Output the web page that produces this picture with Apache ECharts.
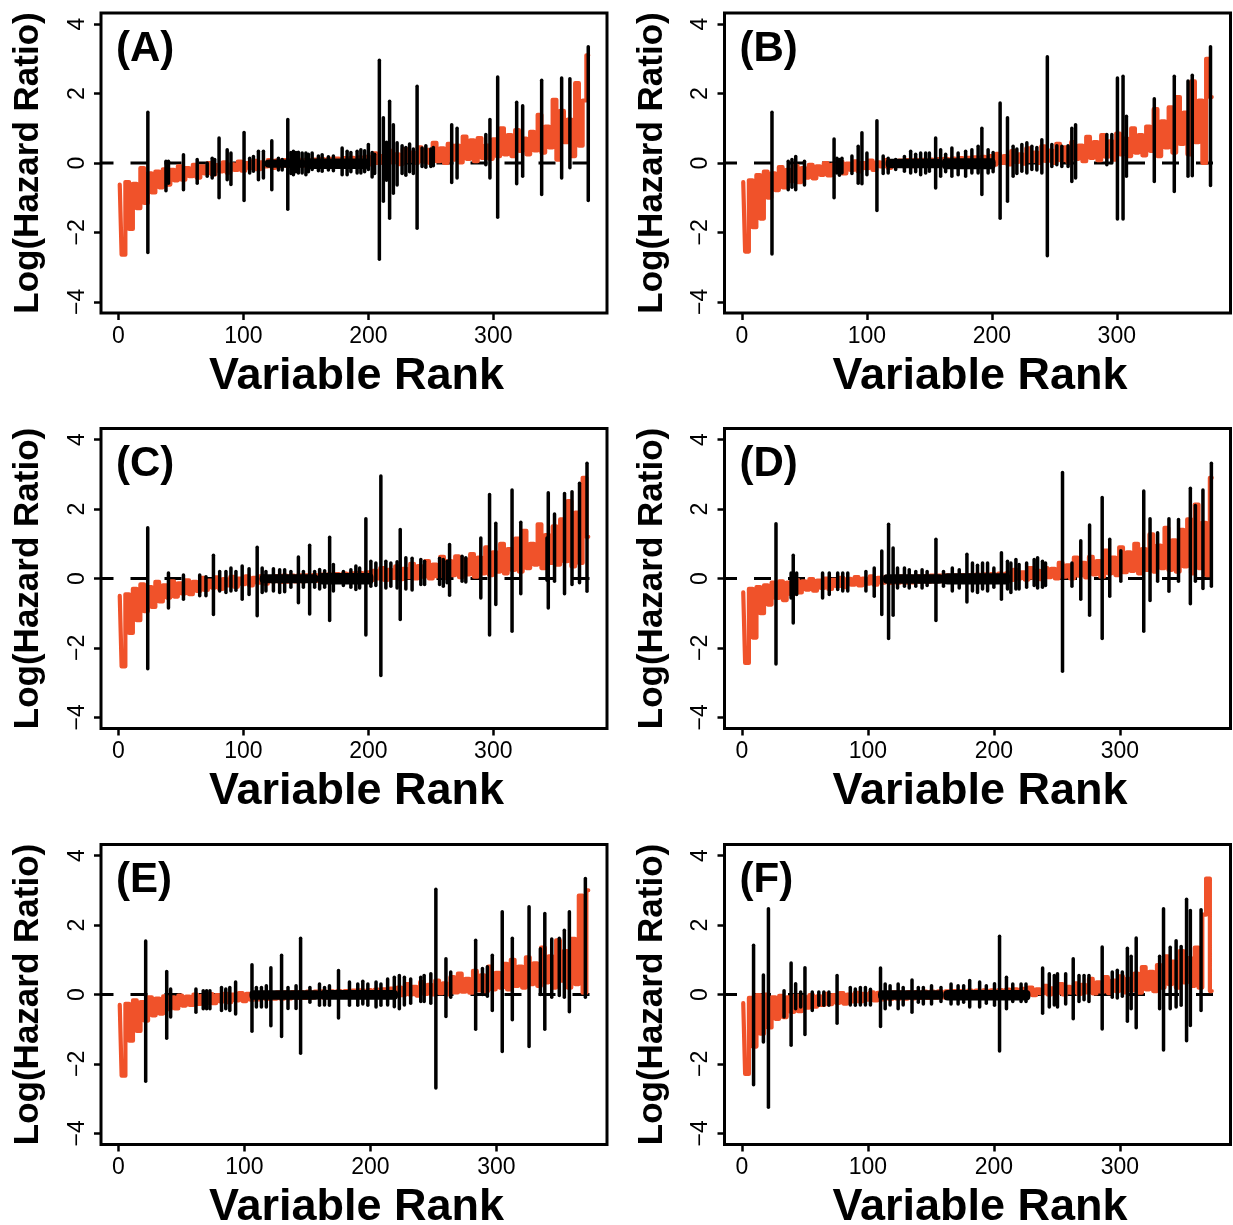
<!DOCTYPE html>
<html><head><meta charset="utf-8">
<script src="https://cdn.jsdelivr.net/npm/echarts@6/dist/echarts.min.js"></script>
<style>html,body{margin:0;padding:0;background:#fff}#c{width:1233px;height:1225px}</style>
</head><body><div id="c"></div>
<script>
// ---------- data ----------
const panelLabels = ['(A)', '(B)', '(C)', '(D)', '(E)', '(F)'];
const panelN = [376, 376, 376, 373, 373, 373];   // number of ranked variables
const rankStep = 3;                               // orange values read every 3 ranks, starting at rank 1
const xTicks = [0, 100, 200, 300];
const yTicks = [-4, -2, 0, 2, 4];

const orangeA = [-0.62,-2.64,-0.55,-1.9,-0.6,-1.3,-0.15,-1.15,-0.3,-0.85,-0.25,-0.7,-0.18,-0.62,-0.2,-0.5,-0.1,-0.48,-0.15,-0.38,-0.05,-0.42,-0.1,-0.3,0.0,-0.33,-0.06,-0.24,0.02,-0.28,-0.04,-0.2,0.04,-0.22,0.0,-0.15,0.06,-0.18,0.02,-0.1,0.08,-0.14,
0.07,-0.1,0.08,-0.09,0.08,-0.08,0.09,-0.08,0.1,-0.07,0.1,-0.06,0.11,-0.05,0.12,-0.05,0.13,-0.04,0.14,-0.04,0.15,-0.03,0.16,-0.03,0.18,
-0.04,0.28,0.0,0.2,-0.05,0.35,0.02,0.25,-0.03,0.4,0.05,0.3,0.0,0.45,0.04,0.38,0.0,0.58,0.05,0.42,0.0,0.55,0.1,0.5,0.02,0.76,0.12,0.65,0.05,0.72,0.15,0.5,0.12,0.68,0.2,1.0,0.25,0.8,0.2,0.95,0.35,0.7,0.25,0.9,0.36,1.39,0.3,1.05,0.45,1.82,0.1,1.5,0.6,1.25,0.2,2.3,0.5,1.8,3.1];
const orangeB = [-0.55,-2.55,-0.5,-1.85,-0.35,-1.6,-0.25,-1.0,-0.3,-0.78,-0.12,-0.7,-0.2,-0.52,-0.08,-0.55,-0.15,-0.42,-0.05,-0.44,-0.1,-0.34,0.0,-0.36,-0.05,-0.25,0.03,-0.3,-0.02,-0.2,0.05,-0.24,0.0,-0.15,0.07,-0.2,0.02,-0.1,0.08,-0.14,0.04,-0.08,
0.07,-0.09,0.08,-0.09,0.09,-0.08,0.09,-0.07,0.1,-0.07,0.11,-0.06,0.12,-0.05,0.13,-0.05,0.14,-0.04,0.15,-0.03,0.16,-0.03,0.18,-0.02,0.2,
-0.05,0.26,0.0,0.2,-0.04,0.34,0.03,0.25,-0.02,0.42,0.05,0.3,0.0,0.48,0.06,0.36,0.0,0.55,0.08,0.45,0.02,0.6,0.12,0.5,0.05,0.75,0.15,0.6,0.08,0.8,0.18,0.62,0.1,0.85,0.25,0.7,0.2,1.0,0.3,0.8,0.22,1.05,0.35,1.55,0.2,1.2,0.45,1.6,0.3,1.9,0.55,1.45,0.25,2.35,0.6,1.8,0.0,3.0,1.9];
const orangeC = [-0.5,-2.53,-0.46,-1.57,-0.3,-1.2,-0.17,-0.94,-0.25,-0.82,-0.1,-0.66,-0.2,-0.55,-0.08,-0.52,-0.14,-0.43,-0.05,-0.45,-0.1,-0.36,0.02,-0.33,-0.06,-0.26,0.03,-0.3,-0.02,-0.2,0.05,-0.24,0.0,-0.16,0.06,-0.2,0.02,-0.12,0.07,-0.15,0.03,-0.08,
0.07,-0.1,0.08,-0.09,0.08,-0.08,0.09,-0.08,0.09,-0.07,0.1,-0.07,0.11,-0.06,0.12,-0.05,0.13,-0.05,0.14,-0.04,0.15,-0.04,0.16,-0.03,0.18,
-0.05,0.22,0.0,0.3,-0.04,0.25,0.02,0.35,-0.02,0.28,0.04,0.42,0.0,0.36,0.05,0.5,0.0,0.4,0.06,0.62,0.02,0.5,0.1,0.64,0.04,0.55,0.12,0.7,0.05,0.6,0.15,0.9,0.1,0.75,0.2,1.0,0.15,0.85,0.25,1.15,0.2,1.37,0.3,1.0,0.4,1.56,0.3,1.25,0.45,1.5,0.4,1.7,0.5,2.23,0.35,1.9,0.45,2.9,1.2];
const orangeD = [-0.4,-2.43,-0.3,-1.7,-0.25,-1.0,-0.2,-0.75,-0.12,-0.56,-0.08,-0.62,-0.12,-0.45,-0.04,-0.4,-0.08,-0.32,-0.02,-0.35,-0.06,-0.27,0.0,-0.3,-0.04,-0.22,0.02,-0.25,-0.01,-0.18,0.04,-0.2,0.0,-0.15,0.06,-0.18,0.02,-0.12,
0.05,-0.13,0.05,-0.12,0.06,-0.12,0.06,-0.11,0.07,-0.1,0.07,-0.1,0.08,-0.09,0.08,-0.08,0.09,-0.08,0.09,-0.07,0.1,-0.07,0.1,-0.06,0.11,-0.06,0.12,-0.05,0.13,-0.05,0.14,-0.04,0.15,
-0.04,0.25,0.0,0.18,-0.03,0.3,0.02,0.22,-0.02,0.3,0.04,0.28,0.0,0.45,0.05,0.38,0.0,0.6,0.08,0.45,0.03,0.62,0.12,0.5,0.05,0.8,0.15,0.6,0.1,0.9,0.18,0.75,0.22,1.0,0.15,0.85,0.25,1.27,0.2,0.95,0.3,1.46,0.25,1.1,0.2,1.4,0.35,1.7,0.15,2.13,0.3,1.6,0.1,2.9];
const orangeE = [-0.3,-2.34,-0.27,-1.33,-0.17,-1.05,-0.22,-0.75,-0.08,-0.6,-0.12,-0.55,-0.05,-0.42,-0.08,-0.4,-0.03,-0.32,-0.06,-0.3,0.0,-0.27,-0.04,-0.24,0.01,-0.25,-0.02,-0.2,0.02,-0.22,0.0,-0.17,0.04,-0.19,0.02,
-0.15,0.04,-0.14,0.05,-0.13,0.05,-0.12,0.06,-0.12,0.06,-0.11,0.07,-0.1,0.07,-0.1,0.08,-0.09,0.08,-0.08,0.09,-0.08,0.09,-0.07,0.1,-0.07,0.1,-0.06,0.11,-0.06,0.12,-0.05,0.13,-0.05,0.14,-0.04,0.15,-0.04,0.17,-0.03,0.2,
-0.02,0.3,0.0,0.22,-0.03,0.36,0.02,0.28,0.0,0.4,0.04,0.32,0.0,0.5,0.06,0.6,0.08,0.45,0.05,0.68,0.12,0.55,0.1,0.8,0.15,0.62,0.2,0.88,0.15,1.0,0.25,0.8,0.2,1.07,0.3,0.9,0.25,1.35,0.35,1.1,0.2,1.56,0.4,1.25,0.2,1.6,0.3,2.85,0.05,3.0];
const orangeF = [-0.25,-2.29,-0.1,-1.5,-0.02,-1.13,0.0,-0.95,-0.08,-0.7,-0.04,-0.65,-0.08,-0.5,-0.03,-0.48,-0.07,-0.38,-0.02,-0.35,-0.05,-0.3,0.02,-0.28,-0.02,-0.24,0.04,-0.26,0.0,-0.2,0.05,-0.2,0.02,-0.15,0.06,-0.17,
0.05,-0.14,0.05,-0.13,0.06,-0.12,0.06,-0.12,0.07,-0.11,0.07,-0.1,0.08,-0.1,0.08,-0.09,0.09,-0.08,0.09,-0.08,0.1,-0.07,0.1,-0.07,0.11,-0.06,0.11,-0.06,0.12,-0.05,0.12,-0.05,0.13,-0.04,0.14,-0.04,0.15,-0.03,0.16,-0.02,
0.2,-0.02,0.15,0.03,0.25,0.0,0.18,0.04,0.3,0.0,0.22,0.05,0.32,0.02,0.28,0.06,0.45,0.03,0.35,0.08,0.5,0.04,0.4,0.1,0.52,0.06,0.45,0.12,0.6,0.05,0.79,0.15,0.65,0.1,0.85,0.2,1.1,0.3,0.95,0.2,1.25,0.35,1.05,0.25,1.35,0.2,2.3,3.34,0.1];

// black interval sticks: [rank, low, high]
const sticksA = [[23.5,-2.58,1.46],[38,-0.8,0.05],[40,-0.58,0.05],[52,-0.77,0.24],[63,-0.58,0.1],[71,-0.38,0.0],[75,-0.43,0.14],[77,-0.34,0.1],[80.5,-1.0,0.72],[87,-0.48,0.38],[90,-0.62,0.29],[100.5,-1.08,0.88],[105,-0.29,0.14],[108,-0.24,0.19],[112,-0.48,0.34],[116,-0.43,0.34],[122.7,-0.77,0.64],[128,-0.2,0.14],[131,-0.2,0.1],[135.5,-1.33,1.25],[138,-0.3,0.3],[140,-0.34,0.34],[142,-0.25,0.3],[144,-0.29,0.31],[147,-0.29,0.29],[150,-0.34,0.29],[152,-0.25,0.25],[155,-0.19,0.29],[160,-0.22,0.2],[163,-0.24,0.24],[168,-0.2,0.18],[172,-0.22,0.2],[179,-0.34,0.43],[183,-0.34,0.34],[186,-0.25,0.3],[191,-0.29,0.34],[194,-0.29,0.38],[197,-0.25,0.35],[200,-0.19,0.53],[203,-0.4,0.3],[205,-0.3,0.25],[208.8,-2.77,2.96],[212,-1.1,1.3],[214.5,-0.5,0.6],[217,-1.59,1.78],[220,-0.87,1.1],[223,-0.63,0.58],[227,-0.3,0.5],[230,-0.35,0.45],[233,-0.25,0.55],[236,-0.3,0.4],[239,-1.88,2.21],[243,-0.1,0.43],[246,-0.12,0.5],[250,-0.1,0.4],[252,-0.08,0.45],[266.7,-0.56,1.1],[271,-0.43,1.0],[294,-0.05,0.82],[297.3,-0.43,1.25],[303.5,-1.56,2.48],[318.7,-0.6,1.75],[323.5,-0.38,1.65],[338.7,-0.91,2.38],[354.7,-0.43,2.45],[361.3,-0.14,2.43],[376,-1.08,3.35]];
const sticksB = [[24,-2.62,1.46],[37,-0.77,0.05],[40,-0.7,0.1],[43,-0.77,0.19],[50,-0.63,0.05],[73.7,-1.0,0.69],[76,-0.29,0.14],[78,-0.35,0.1],[80,-0.29,0.14],[88,-0.3,0.2],[93,-0.58,0.48],[96,-0.6,0.87],[100,-0.34,0.29],[108,-1.37,1.22],[113,-0.3,0.2],[117,-0.29,0.14],[123,-0.19,0.1],[130,-0.24,0.19],[135,-0.29,0.34],[139,-0.25,0.25],[143,-0.34,0.29],[147,-0.29,0.29],[150,-0.24,0.29],[155,-0.72,0.72],[159,-0.38,0.38],[163,-0.25,0.25],[168,-0.38,0.43],[173,-0.34,0.29],[179,-0.38,0.34],[184,-0.29,0.38],[189,-0.29,0.48],[192,-0.91,1.0],[197,-0.29,0.38],[201,-0.25,0.3],[206.6,-1.59,1.73],[212.5,-1.1,1.3],[217,-0.38,0.48],[220,-0.3,0.4],[224,-0.24,0.53],[228,-0.29,0.58],[232,-0.19,0.48],[236,-0.2,0.45],[240,-0.29,0.67],[244.4,-2.67,3.06],[248,-0.1,0.53],[252,-0.05,0.5],[256,-0.1,0.48],[261,-0.1,0.5],[264,-0.53,1.0],[267,-0.43,1.1],[292,-0.05,0.82],[296,0.0,0.82],[300.5,-1.61,2.45],[305,-1.61,2.5],[307.7,-0.38,1.35],[330,-0.53,1.85],[346,-0.82,2.5],[357,-0.38,2.36],[360.4,-0.37,2.53],[375,-0.65,3.35]];
const sticksC = [[23.4,-2.6,1.46],[40,-0.85,0.16],[52,-0.6,0.1],[65,-0.5,0.1],[70,-0.5,0.05],[76,-1.04,0.67],[81,-0.36,0.2],[86,-0.4,0.2],[90,-0.36,0.3],[94,-0.34,0.2],[99,-0.6,0.36],[104.5,-0.46,0.28],[111,-1.07,0.9],[115,-0.4,0.3],[118,-0.36,0.2],[124,-0.36,0.28],[129,-0.4,0.25],[133,-0.38,0.25],[138,-0.25,0.2],[144,-0.7,0.62],[148,-0.25,0.2],[153,-1.02,0.96],[157,-0.25,0.2],[161,-0.3,0.26],[165,-0.25,0.22],[169,-1.21,1.19],[172,-0.36,0.4],[180,-0.2,0.2],[186,-0.25,0.25],[190,-0.32,0.36],[193,-0.27,0.3],[198,-1.63,1.72],[202,-0.22,0.5],[206,-0.2,0.45],[210,-2.79,2.95],[214,-0.27,0.5],[218,-0.22,0.45],[223,-0.27,0.48],[225.5,-1.18,1.41],[230,-0.3,0.6],[235,-0.33,0.58],[242,-0.17,0.55],[245,-0.17,0.5],[257,-0.17,0.58],[260,-0.22,0.55],[263,-0.12,0.5],[265,-0.48,0.98],[275,-0.08,0.64],[278,-0.1,0.6],[290,-0.56,1.17],[297,-1.63,2.42],[302,-0.75,1.59],[315,-1.52,2.55],[322,-0.44,1.62],[343,-0.05,1.17],[344,-0.85,2.47],[349,-0.08,1.86],[357,-0.44,2.45],[363,-0.17,2.5],[369,-0.12,2.74],[375,-0.37,3.32]];
const sticksD = [[27,-2.46,1.58],[39,-0.56,0.16],[40.7,-1.28,0.67],[43.4,-0.46,0.16],[64,-0.56,0.16],[69.3,-0.46,0.16],[76,-0.32,0.16],[80,-0.36,0.16],[84,-0.36,0.16],[98.4,-0.36,0.2],[105,-0.51,0.3],[111,-1.04,0.79],[116.4,-1.73,1.56],[120,-1.06,0.88],[123.5,-0.27,0.3],[129,-0.22,0.3],[132.8,-0.27,0.25],[138,-0.22,0.2],[143,-0.27,0.25],[147,-0.2,0.2],[154,-1.21,1.13],[160,-0.22,0.2],[167,-0.36,0.3],[172.5,-0.27,0.25],[178.6,-0.68,0.7],[183,-0.36,0.45],[187,-0.4,0.38],[191,-0.3,0.45],[195,-0.36,0.45],[200,-0.25,0.3],[206,-0.6,0.74],[210.8,-0.3,0.5],[213.5,-0.4,0.45],[217.5,-0.3,0.55],[220,-0.3,0.4],[226,-0.25,0.45],[232,-0.2,0.55],[234.7,-0.27,0.6],[238.6,-0.25,0.5],[241,-0.2,0.45],[254.5,-2.67,3.05],[262,-0.22,0.45],[269,-0.6,1.09],[276,-1.06,1.54],[286,-1.73,2.33],[292,-0.51,1.13],[300.8,-0.08,0.8],[319,-1.52,2.52],[324,-0.63,1.72],[330,-0.08,1.32],[339,-0.37,1.72],[346.6,-0.08,1.7],[356,-0.73,2.6],[360,-0.08,2.1],[366,-0.29,2.55],[372.7,-0.22,3.32]];
const sticksE = [[21.6,-2.5,1.54],[38.3,-1.26,0.66],[41.4,-0.65,0.16],[61.5,-0.51,0.16],[67.3,-0.41,0.11],[70,-0.41,0.11],[72.6,-0.41,0.11],[81.8,-0.46,0.2],[85.2,-0.41,0.16],[88.4,-0.46,0.2],[93,-0.56,0.36],[106,-1.06,0.86],[109.5,-0.36,0.2],[113.5,-0.36,0.2],[117.4,-0.36,0.25],[121,-0.9,0.77],[129.5,-1.21,1.13],[134.6,-0.4,0.2],[141,-0.4,0.25],[144.6,-1.69,1.62],[152,-0.22,0.2],[159.6,-0.31,0.3],[163.6,-0.3,0.2],[167.5,-0.31,0.25],[174.7,-0.68,0.69],[183.4,-0.31,0.36],[190,-0.31,0.3],[194,-0.27,0.38],[198,-0.31,0.3],[204.5,-0.36,0.36],[208.4,-0.31,0.3],[213.7,-0.3,0.45],[219,-0.35,0.5],[223,-0.41,0.55],[227,-0.3,0.5],[232,-0.25,0.45],[240,-0.2,0.5],[242.7,-0.2,0.55],[248,-0.25,0.6],[252,-2.69,3.03],[260,-0.63,1.03],[263.8,-0.08,0.65],[283.6,-1.0,1.56],[289,0.0,0.75],[292.9,-0.05,0.8],[296.8,-0.46,1.13],[304.7,-1.64,2.38],[312.7,-0.73,1.62],[326,-1.5,2.53],[335,0.0,1.32],[338.5,-1.0,2.33],[344,-0.08,1.6],[350,-0.03,1.62],[354,-0.08,1.85],[358,-0.5,2.38],[370.7,-0.08,3.34]];
const sticksF = [[9.2,-2.6,1.42],[17,-1.37,0.56],[21,-3.25,2.47],[33.4,-0.65,0.11],[39,-1.46,0.91],[42.6,-0.41,0.31],[46.6,-0.36,0.07],[50,-1.15,0.77],[55.8,-0.46,0.07],[61,-0.31,0.07],[65,-0.31,0.07],[69,-0.31,0.07],[75.5,-0.83,0.55],[86,-0.3,0.2],[90,-0.31,0.16],[94,-0.3,0.2],[98,-0.3,0.2],[102,-0.3,0.15],[110,-0.92,0.76],[113.7,-0.41,0.3],[117.6,-0.3,0.25],[124,-0.41,0.3],[128,-0.3,0.2],[135,-0.51,0.42],[140,-0.22,0.2],[144,-0.27,0.2],[150.5,-0.27,0.25],[158,-0.2,0.2],[166,-0.27,0.3],[171.6,-0.27,0.25],[176,-0.22,0.25],[180.8,-0.36,0.4],[188.7,-0.36,0.36],[194,-0.25,0.25],[200.5,-0.31,0.31],[204.5,-1.63,1.68],[210,-0.41,0.5],[215,-0.2,0.3],[221.6,-0.2,0.3],[225.5,-0.2,0.3],[238.7,-0.54,0.76],[244,-0.36,0.6],[248,-0.3,0.55],[250.5,-0.36,0.6],[257,-0.27,0.6],[263,-0.7,1.03],[267.6,-0.2,0.55],[271.6,-0.15,0.55],[275.5,-0.2,0.55],[286,-0.99,1.37],[294,-0.08,0.65],[298,-0.1,0.7],[302,-0.05,0.65],[306,-0.77,1.33],[309,-0.41,1.1],[313,-0.96,1.63],[331.6,-0.41,1.1],[334.7,-1.6,2.47],[340,-0.41,1.36],[344.7,-0.36,1.55],[348.7,-0.31,1.38],[353,-1.33,2.74],[356,-0.89,2.42],[364.5,-0.46,2.44]];

// dense black runs in the middle: [rank from, rank to, low, high]
const bandA = [[117,150,-0.14,0.1],[150,201,-0.17,0.13]];
const bandB = [[115,160,-0.15,0.12],[160,203,-0.18,0.14]];
const bandC = [[113,160,-0.14,0.12],[160,204,-0.17,0.16]];
const bandD = [[112,160,-0.15,0.12],[160,213,-0.17,0.15]];
const bandE = [[104,160,-0.15,0.12],[160,222,-0.15,0.13]];
const bandF = [[108,160,-0.15,0.12],[160,229,-0.17,0.13]];

// ---------- chart ----------
const orangeSets = [orangeA, orangeB, orangeC, orangeD, orangeE, orangeF];
const stickSets = [sticksA, sticksB, sticksC, sticksD, sticksE, sticksF];
const bandSets = [bandA, bandB, bandC, bandD, bandE, bandF];

const FONT = '"Liberation Sans", Arial, Helvetica, sans-serif';
const colLeft = [101, 724.5], rowTop = [13, 428.5, 844.5];
const GW = 506, GH = 300;
const YMIN = -4.32, YMAX = 4.32;
const ORANGE = '#f0522a';

const grids = [], xAxes = [], yAxes = [], series = [], graphics = [];
for (let i = 0; i < 6; i++) {
  const left = colLeft[i % 2], top = rowTop[Math.floor(i / 2)];
  const n = panelN[i];
  const xmin = 1 - 0.04 * (n - 1), xmax = n + 0.04 * (n - 1);
  grids.push({left, top, width: GW, height: GH, show: true, borderColor: '#000', borderWidth: 3,
    backgroundColor: 'transparent', containLabel: false, outerBoundsMode: 'none'});
  xAxes.push({gridIndex: i, type: 'value', min: xmin, max: xmax, position: 'bottom',
    axisLine: {show: false, onZero: false}, splitLine: {show: false},
    axisTick: {show: true, length: 7, lineStyle: {color: '#000', width: 2.5}, customValues: xTicks},
    axisLabel: {customValues: xTicks, margin: 12, fontSize: 23, color: '#000', fontFamily: FONT},
    name: 'Variable Rank', nameLocation: 'middle', nameGap: 41,
    nameTextStyle: {fontSize: 45, fontWeight: 'bold', color: '#000', fontFamily: FONT, padding: [0, 0, 0, 5]}});
  yAxes.push({gridIndex: i, type: 'value', min: YMIN, max: YMAX, position: 'left',
    axisLine: {show: false, onZero: false}, splitLine: {show: false},
    axisTick: {show: true, length: 7, lineStyle: {color: '#000', width: 2.5}, customValues: yTicks},
    axisLabel: {customValues: yTicks, rotate: 90, margin: 12, fontSize: 23, color: '#000', fontFamily: FONT,
      formatter: v => String(v).replace('-', '\u2212')},
    name: 'Log(Hazard Ratio)', nameLocation: 'middle', nameGap: 55, nameRotate: 90,
    nameTextStyle: {fontSize: 35, fontWeight: 'bold', color: '#000', fontFamily: FONT}});

  // dashed reference line at 0
  series.push({type: 'line', xAxisIndex: i, yAxisIndex: i, data: [[xmin, 0], [xmax, 0]],
    symbol: 'none', silent: true, z: 1, animation: false,
    lineStyle: {color: '#000', width: 3, type: [17, 17], dashOffset: 4.5}});
  // orange ranked estimates (jagged, drawn as a stepped trace)
  series.push({type: 'line', xAxisIndex: i, yAxisIndex: i, step: 'middle',
    data: orangeSets[i].map((v, k) => [1 + rankStep * k, v]),
    symbol: 'none', silent: true, z: 2, animation: false,
    lineStyle: {color: ORANGE, width: 4.2, join: 'round', cap: 'round'}});
  // dense black runs
  series.push({type: 'custom', xAxisIndex: i, yAxisIndex: i, data: bandSets[i], clip: true,
    encode: {x: [0, 1], y: [2, 3]}, z: 3, silent: true, animation: false,
    renderItem: (params, api) => {
      const a = api.coord([api.value(0), api.value(3)]);
      const b = api.coord([api.value(1), api.value(2)]);
      return {type: 'rect', shape: {x: a[0], y: a[1], width: b[0] - a[0], height: b[1] - a[1], r: 4},
        style: {fill: '#000'}};
    }});
  // black sticks
  series.push({type: 'custom', xAxisIndex: i, yAxisIndex: i, data: stickSets[i], clip: true,
    encode: {x: 0, y: [1, 2]}, z: 4, silent: true, animation: false,
    renderItem: (params, api) => {
      const p1 = api.coord([api.value(0), api.value(1)]);
      const p2 = api.coord([api.value(0), api.value(2)]);
      return {type: 'line', shape: {x1: p1[0], y1: p1[1], x2: p2[0], y2: p2[1]},
        style: {stroke: '#000', lineWidth: 3.5, lineCap: 'round'}};
    }});

  graphics.push({type: 'text', left: left + 15, top: top + 15, z: 10,
    style: {text: panelLabels[i], fontSize: 42, fontWeight: 'bold', fontFamily: FONT, fill: '#000'}});
}

const chart = echarts.init(document.getElementById('c'), null, {renderer: 'canvas'});
chart.setOption({
  animation: false,
  backgroundColor: '#fff',
  grid: grids, xAxis: xAxes, yAxis: yAxes, series: series, graphic: graphics
});
</script></body></html>
